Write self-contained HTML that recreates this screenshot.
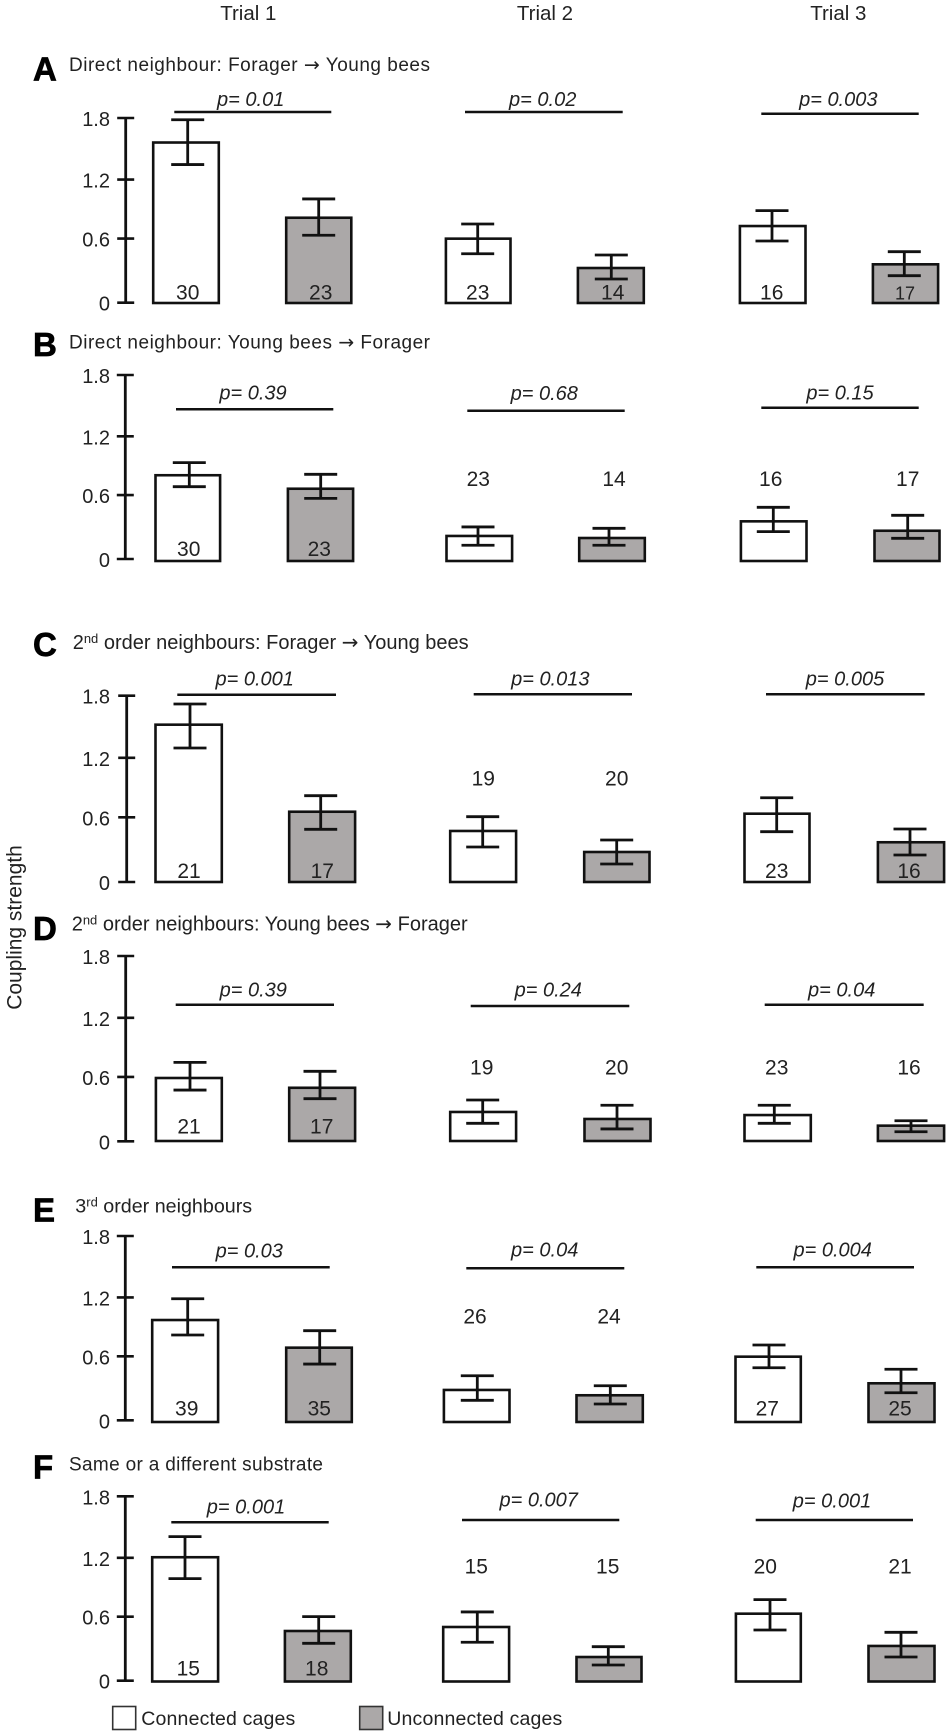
<!DOCTYPE html>
<html lang="en">
<head>
<meta charset="utf-8">
<title>Coupling strength by trial</title>
<style>
  html, body { margin: 0; padding: 0; background: #fff; }
  svg { display: block; font-family: "Liberation Sans", Arial, sans-serif; fill: #222; }
  .arrow { font-family: "DejaVu Sans", sans-serif; }
  .letter { stroke: #000; stroke-width: 0.7; }
</style>
</head>
<body>
<svg id="figure" xmlns="http://www.w3.org/2000/svg" width="950" height="1734" viewBox="0 0 950 1734">
  <rect x="0" y="0" width="950" height="1734" fill="#fff"/>

  <text x="248.3" y="20" font-size="20.5" text-anchor="middle">Trial 1</text>
  <text x="545" y="20" font-size="20.5" text-anchor="middle">Trial 2</text>
  <text x="838.3" y="20" font-size="20.5" text-anchor="middle">Trial 3</text>

  <text class="letter" x="33" y="80.7" font-size="33" font-weight="bold" fill="#000">A</text>
  <text x="69" y="71" font-size="19" textLength="361" lengthAdjust="spacing">Direct neighbour: Forager <tspan class="arrow">→</tspan> Young bees</text>
  <text class="letter" x="33" y="356" font-size="33" font-weight="bold" fill="#000">B</text>
  <text x="69" y="348.3" font-size="19" textLength="361" lengthAdjust="spacing">Direct neighbour: Young bees <tspan class="arrow">→</tspan> Forager</text>
  <text class="letter" x="33" y="656" font-size="33" font-weight="bold" fill="#000">C</text>
  <text x="72.7" y="649" font-size="20">2<tspan font-size="13" dy="-6">nd</tspan><tspan dy="6"> order neighbours: Forager </tspan><tspan class="arrow">→</tspan> Young bees</text>
  <text class="letter" x="33" y="940" font-size="33" font-weight="bold" fill="#000">D</text>
  <text x="71.7" y="930.7" font-size="20">2<tspan font-size="13" dy="-6">nd</tspan><tspan dy="6"> order neighbours: Young bees </tspan><tspan class="arrow">→</tspan> Forager</text>
  <text class="letter" x="33" y="1221.7" font-size="33" font-weight="bold" fill="#000">E</text>
  <text x="75.3" y="1212.7" font-size="19.7">3<tspan font-size="13" dy="-6">rd</tspan><tspan dy="6"> order neighbours</tspan></text>
  <text class="letter" x="33" y="1478.7" font-size="33" font-weight="bold" fill="#000">F</text>
  <text x="69" y="1470.7" font-size="19" textLength="254" lengthAdjust="spacing">Same or a different substrate</text>

  <text transform="translate(21.7 927.5) rotate(-90)" font-size="21" text-anchor="middle">Coupling strength</text>

  <g id="marks"></g>

  <rect x="112.7" y="1706.5" width="23" height="23" fill="#fff" stroke="#333" stroke-width="1.6"/>
  <text x="141.3" y="1725" font-size="19.5" textLength="154" lengthAdjust="spacing">Connected cages</text>
  <rect x="359.7" y="1706.5" width="23" height="23" fill="#aba8a8" stroke="#333" stroke-width="1.6"/>
  <text x="387.3" y="1725" font-size="19.5" textLength="175" lengthAdjust="spacing">Unconnected cages</text>

<script>
// ---- Data: six bars per panel, order T1 connected, T1 unconnected, T2 ..., T3 ...
const tickValues = [0, 0.625, 1.2, 1.8];
const tickLabels = ["0", "0.6", "1.2", "1.8"];
const groupNames = ["connected", "unconnected"];

const meansA = [1.564, 0.831, 0.627, 0.341, 0.750, 0.377];
const upperA = [1.786, 1.014, 0.770, 0.468, 0.900, 0.500];
const lowerA = [1.349, 0.660, 0.480, 0.234, 0.604, 0.266];
const samplesA = ["30", "23", "23", "14", "16", "17"];
const pLabelsA = ["p= 0.01", "p= 0.02", "p= 0.003"];

const meansB = [0.839, 0.707, 0.245, 0.225, 0.388, 0.296];
const upperB = [0.962, 0.848, 0.333, 0.320, 0.525, 0.447];
const lowerB = [0.727, 0.613, 0.154, 0.154, 0.287, 0.222];
const samplesB = ["30", "23", "23", "14", "16", "17"];
const pLabelsB = ["p= 0.39", "p= 0.68", "p= 0.15"];

const meansC = [1.520, 0.679, 0.493, 0.290, 0.660, 0.384];
const upperC = [1.720, 0.834, 0.631, 0.406, 0.814, 0.512];
const lowerC = [1.295, 0.509, 0.338, 0.174, 0.486, 0.261];
const samplesC = ["21", "17", "19", "20", "23", "16"];
const pLabelsC = ["p= 0.001", "p= 0.013", "p= 0.005"];

const meansD = [0.612, 0.517, 0.282, 0.214, 0.252, 0.149];
const upperD = [0.764, 0.677, 0.398, 0.347, 0.347, 0.197];
const lowerD = [0.495, 0.411, 0.172, 0.117, 0.172, 0.090];
const samplesD = ["21", "17", "19", "20", "23", "16"];
const pLabelsD = ["p= 0.39", "p= 0.24", "p= 0.04"];

const meansE = [0.996, 0.726, 0.313, 0.261, 0.638, 0.378];
const upperE = [1.204, 0.892, 0.452, 0.354, 0.752, 0.515];
const lowerE = [0.850, 0.566, 0.212, 0.176, 0.530, 0.286];
const samplesE = ["39", "35", "26", "24", "27", "25"];
const pLabelsE = ["p= 0.03", "p= 0.04", "p= 0.004"];

const meansF = [1.213, 0.493, 0.532, 0.239, 0.662, 0.347];
const upperF = [1.414, 0.633, 0.679, 0.340, 0.799, 0.480];
const lowerF = [1.004, 0.373, 0.383, 0.161, 0.503, 0.239];
const samplesF = ["15", "18", "15", "15", "20", "21"];
const pLabelsF = ["p= 0.001", "p= 0.007", "p= 0.001"];

const panelKeys = ["a", "b", "c", "d", "e", "f"];
const panelMeans = [meansA, meansB, meansC, meansD, meansE, meansF];
const panelUpper = [upperA, upperB, upperC, upperD, upperE, upperF];
const panelLower = [lowerA, lowerB, lowerC, lowerD, lowerE, lowerF];
const panelSamples = [samplesA, samplesB, samplesC, samplesD, samplesE, samplesF];
const panelPLabels = [pLabelsA, pLabelsB, pLabelsC, pLabelsD, pLabelsE, pLabelsF];

// ---- Layout (page geometry, separate from the data above)
function panelLayout(index) {
  return [
    { axisX: 125.7, axisTop: 118, axisZero: 302.7, baseY: 303,
      left: [152, 285, 444.7, 576.7, 738.7, 871.7], right: [220, 352.5, 511.7, 645, 806.7, 939.3],
      errX: [187.7, 318.7, 477.7, 611.3, 772, 904.3],
      sigX1: [174.3, 465, 761.3], sigX2: [331.3, 622.7, 918.7], sigY: [112, 112, 113.7],
      pX: [250.7, 542.7, 838.3], pY: [106, 106, 106],
      nX: [187.7, 320.7, 477.7, 612.7, 771.7, 905], nY: [299.3, 299.3, 299.3, 299.3, 299.3, 299.3],
      nSize: [21, 21, 21, 21, 21, 18] },
    { axisX: 125.3, axisTop: 375, axisZero: 559, baseY: 561,
      left: [154.3, 286.7, 445.3, 578, 739.7, 873.3], right: [221.3, 354.3, 513.3, 646, 807.7, 940.7],
      errX: [189.3, 320.7, 478, 609, 773.3, 907.7],
      sigX1: [176, 467.3, 761.3], sigX2: [333.3, 624.7, 918.7], sigY: [409.3, 410.7, 407.7],
      pX: [253, 544.3, 840], pY: [399.5, 400, 399.5],
      nX: [188.7, 319.3, 478.3, 614, 770.7, 907.7], nY: [556, 556, 486, 486, 486, 486],
      nSize: [21, 21, 21, 21, 21, 21] },
    { axisX: 126.7, axisTop: 695.7, axisZero: 882, baseY: 882,
      left: [154.3, 288, 449, 583, 743.3, 876.7], right: [223, 356.3, 517.3, 650.7, 810.7, 945.3],
      errX: [190, 320.7, 482.7, 616.7, 776.7, 910],
      sigX1: [177.3, 473.7, 766], sigX2: [336, 632, 924.7], sigY: [694.7, 694.3, 694.3],
      pX: [254.7, 550.3, 845], pY: [685.7, 685.7, 685.7],
      nX: [189, 322.3, 483.3, 616.7, 776.7, 909], nY: [878, 878, 785.3, 785.3, 878, 878],
      nSize: [21, 21, 21, 21, 21, 21] },
    { axisX: 125.7, axisTop: 956, axisZero: 1141.3, baseY: 1141,
      left: [154.7, 288, 449, 583.3, 743.3, 876.7], right: [223, 356.3, 517.3, 651.7, 812, 945.3],
      errX: [190, 320, 482.7, 617, 774.3, 911],
      sigX1: [175.7, 470.7, 764.7], sigX2: [334, 629.3, 923.7], sigY: [1004.7, 1006, 1004.7],
      pX: [253.3, 548.3, 841.7], pY: [996.7, 996.7, 996.7],
      nX: [189, 321.7, 481.7, 616.7, 776.7, 909], nY: [1133.3, 1133.3, 1074.7, 1074.7, 1074.7, 1074.7],
      nSize: [21, 21, 21, 21, 21, 21] },
    { axisX: 125.3, axisTop: 1236, axisZero: 1420.3, baseY: 1422,
      left: [151, 285, 442.7, 575.3, 734.3, 867.3], right: [219.3, 353, 510.7, 644, 802, 935.7],
      errX: [187.7, 319.7, 477.3, 610.3, 769, 901],
      sigX1: [172, 466.3, 756.3], sigX2: [329.7, 624.3, 914], sigY: [1267.3, 1268.3, 1267.3],
      pX: [249.3, 544.7, 832.7], pY: [1257.3, 1256.7, 1256.7],
      nX: [186.7, 319.3, 475, 609, 767.3, 900], nY: [1415.7, 1415.7, 1323.3, 1323.3, 1415.7, 1415.7],
      nSize: [21, 21, 21, 21, 21, 21] },
    { axisX: 125.3, axisTop: 1496.3, axisZero: 1680.7, baseY: 1681.5,
      left: [151, 283.7, 442, 575.3, 734.7, 867.3], right: [219.3, 352, 510.3, 642.7, 802, 935.7],
      errX: [185, 318.7, 477.3, 608.3, 770, 901],
      sigX1: [171.3, 462, 755.7], sigX2: [328.7, 619.3, 913], sigY: [1522.3, 1520, 1520],
      pX: [246, 538.7, 832], pY: [1513.3, 1506.7, 1507.3],
      nX: [188.3, 316.7, 476.3, 607.7, 765.3, 900], nY: [1675.3, 1675.3, 1573.7, 1573.7, 1573.7, 1573.7],
      nSize: [21, 21, 21, 21, 21, 21] }
  ][index];
}

// ---- Drawing
const SVG_NS = "http://www.w3.org/2000/svg";
const root = document.getElementById("marks");

function make(tag, attrs, parent) {
  const el = document.createElementNS(SVG_NS, tag);
  for (const key in attrs) el.setAttribute(key, attrs[key]);
  parent.appendChild(el);
  return el;
}

function drawLine(x1, y1, x2, y2, width, parent) {
  return make("line", { x1: x1, y1: y1, x2: x2, y2: y2, stroke: "#111", "stroke-width": width }, parent);
}

panelKeys.forEach(function (key, p) {
  const geo = panelLayout(p);
  const scale = (geo.axisZero - geo.axisTop) / 1.8;
  const axisY = function (v) { return geo.axisZero - v * scale; };
  const barY = function (v) { return geo.baseY - v * scale; };

  const group = make("g", {}, root);
  
  

  // y axis
  const axisLine = drawLine(geo.axisX, axisY(1.8), geo.axisX, axisY(0), 2.8, group);
  
  

  tickValues.forEach(function (value, t) {
    const y = axisY(value);
    const tick = drawLine(geo.axisX - 8.5, y, geo.axisX + 8.5, y, 2.6, group);
    
    
    const label = make("text", { x: 110, y: y + 8, "font-size": 20, "text-anchor": "end" }, group);
    label.textContent = tickLabels[t];
    
    
  });

  // bars, error bars, sample sizes
  panelMeans[p].forEach(function (mean, i) {
    const trial = Math.floor(i / 2) + 1;
    const groupName = groupNames[i % 2];
    const suffix = key + '-trial-' + trial + '-' + groupName;

    const bar = make("rect", {
      x: geo.left[i] + 1.2,
      y: barY(mean),
      width: geo.right[i] - geo.left[i] - 2.4,
      height: geo.baseY - barY(mean),
      fill: i % 2 ? "#aba8a8" : "#fff",
      stroke: "#111",
      "stroke-width": 2.6
    }, group);
    
    

    const x = geo.errX[i];
    const hi = barY(panelUpper[p][i]);
    const lo = barY(panelLower[p][i]);
    const stem = drawLine(x, hi, x, lo, 2.8, group);
    
    
    const capHigh = drawLine(x - 16.5, hi, x + 16.5, hi, 2.8, group);
    
    
    const capLow = drawLine(x - 16.5, lo, x + 16.5, lo, 2.8, group);
    
    

    const sample = make("text", {
      x: geo.nX[i], y: geo.nY[i], "font-size": geo.nSize[i], "text-anchor": "middle"
    }, group);
    sample.textContent = panelSamples[p][i];
    
    
  });

  // significance lines and p values
  panelPLabels[p].forEach(function (text, t) {
    const sig = drawLine(geo.sigX1[t], geo.sigY[t], geo.sigX2[t], geo.sigY[t], 2.5, group);
    
    
    const pText = make("text", {
      x: geo.pX[t], y: geo.pY[t], "font-size": 20, "font-style": "italic", "text-anchor": "middle"
    }, group);
    pText.textContent = text;
    
    
  });
});
</script>
</svg>
</body>
</html>
